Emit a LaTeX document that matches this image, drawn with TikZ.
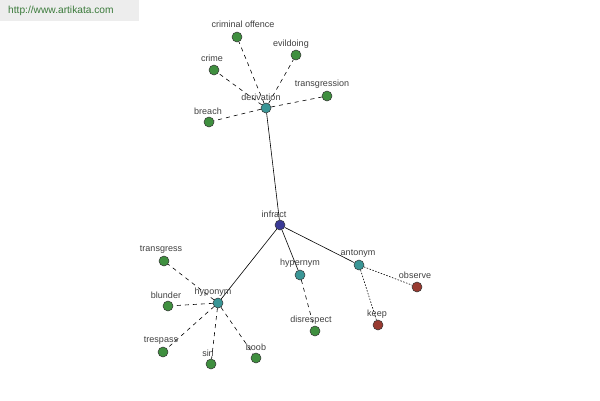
\documentclass[tikz,border=0pt]{standalone}
\usepackage{fontspec}
\setmainfont{Liberation Sans}
\begin{document}
\begin{tikzpicture}[x=1pt,y=-1pt,
  dot/.style={circle,draw=black!80,line width=0.5pt,minimum size=10pt,inner sep=0pt},
  green/.style={dot,fill=nodegreen},
  teal/.style={dot,fill=nodeteal},
  blue/.style={dot,fill=nodeblue},
  red/.style={dot,fill=nodered},
  lbl/.style={font=\fontsize{9}{10}\selectfont,text=black!75,inner sep=0pt},
  solidl/.style={draw=black,line width=0.6pt},
  dashl/.style={draw=black,line width=0.6pt,dash pattern=on 4pt off 4pt},
  dotl/.style={draw=black,line width=0.6pt,dash pattern=on 1.5pt off 1.5pt}]
\definecolor{nodegreen}{HTML}{3F8F3F}
\definecolor{nodeteal}{HTML}{3A9696}
\definecolor{nodeblue}{HTML}{3A3A96}
\definecolor{nodered}{HTML}{983A30}
\definecolor{urlgreen}{HTML}{3A7A3A}
\useasboundingbox (0,0) rectangle (600,400);
\fill[white] (0,0) rectangle (600,400);
\fill[black!7] (0,0) rectangle (139,21);
\node[font=\fontsize{10.2}{11}\selectfont,text=urlgreen,anchor=west,inner sep=0pt] (url) at (8,11) {http://www.artikata.com};
% nodes
\node[blue] (infract) at (280,225) {};
\node[teal] (derivation) at (266,108) {};
\node[teal] (hyponym) at (218,303) {};
\node[teal] (hypernym) at (300,275) {};
\node[teal] (antonym) at (359,265) {};
\node[red] (observe) at (417,287) {};
\node[red] (keep) at (378,325) {};
\node[green] (disrespect) at (315,331) {};
\node[green] (criminal) at (237,37) {};
\node[green] (evildoing) at (296,55) {};
\node[green] (crime) at (214,70) {};
\node[green] (transgression) at (327,96) {};
\node[green] (breach) at (209,122) {};
\node[green] (transgress) at (164,261) {};
\node[green] (blunder) at (168,306) {};
\node[green] (trespass) at (163,352) {};
\node[green] (sin) at (211,364) {};
\node[green] (boob) at (256,358) {};
% edges
\draw[solidl] (infract) -- (derivation);
\draw[solidl] (infract) -- (hyponym);
\draw[solidl] (infract) -- (hypernym);
\draw[solidl] (infract) -- (antonym);
\draw[dashl] (derivation) -- (criminal);
\draw[dashl] (derivation) -- (evildoing);
\draw[dashl] (derivation) -- (crime);
\draw[dashl] (derivation) -- (transgression);
\draw[dashl] (derivation) -- (breach);
\draw[dashl] (hyponym) -- (transgress);
\draw[dashl] (hyponym) -- (blunder);
\draw[dashl] (hyponym) -- (trespass);
\draw[dashl] (hyponym) -- (sin);
\draw[dashl] (hyponym) -- (boob);
\draw[dashl] (hypernym) -- (disrespect);
\draw[dotl] (antonym) -- (observe);
\draw[dotl] (antonym) -- (keep);
% labels
\node[lbl] (l-criminal) at (243,24) {criminal offence};
\node[lbl] (l-evildoing) at (291,44) {evildoing};
\node[lbl] (l-crime) at (212,58) {crime};
\node[lbl] (l-transgression) at (322,84) {transgression};
\node[lbl] (l-derivation) at (261,97) {derivation};
\node[lbl] (l-breach) at (208,111) {breach};
\node[lbl] (l-infract) at (274,214) {infract};
\node[lbl] (l-transgress) at (161,250) {transgress};
\node[lbl] (l-blunder) at (166,295) {blunder};
\node[lbl] (l-hyponym) at (213,292) {hyponym};
\node[lbl] (l-trespass) at (161,341) {trespass};
\node[lbl] (l-sin) at (208,353) {sin};
\node[lbl] (l-boob) at (256,347) {boob};
\node[lbl] (l-hypernym) at (300,263) {hypernym};
\node[lbl] (l-antonym) at (358,254) {antonym};
\node[lbl] (l-observe) at (415,275) {observe};
\node[lbl] (l-disrespect) at (311,320) {disrespect};
\node[lbl] (l-keep) at (377,314) {keep};
\end{tikzpicture}
\end{document}
